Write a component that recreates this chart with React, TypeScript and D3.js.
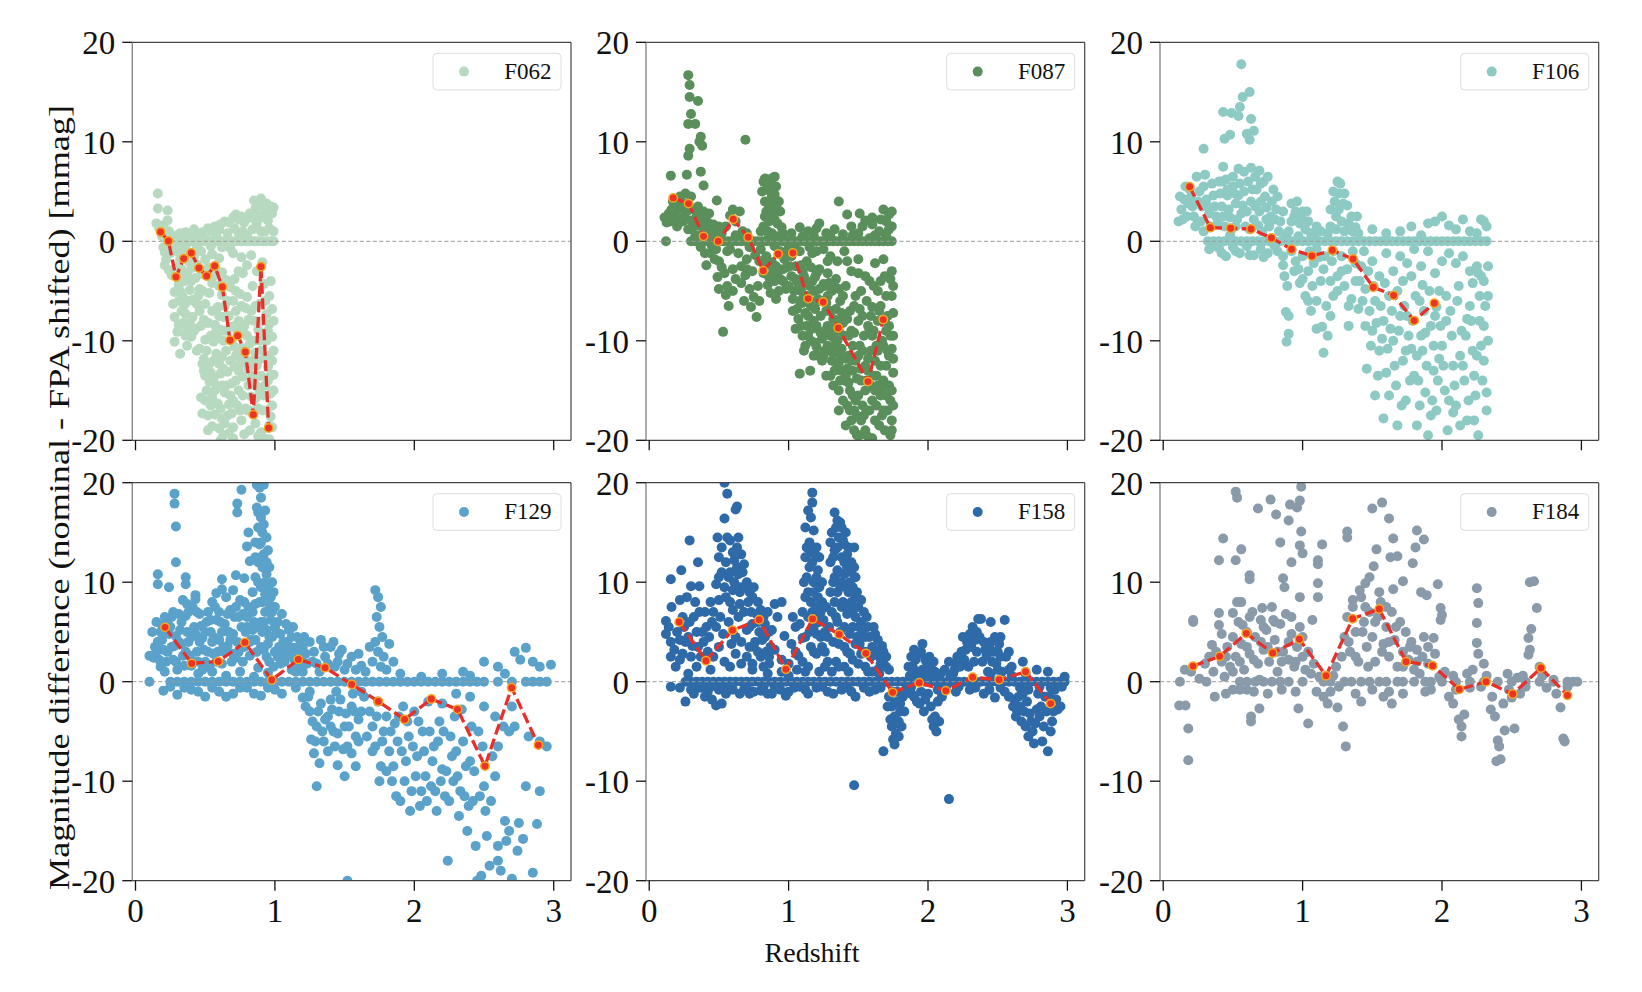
import React from "react";
import * as d3 from "d3";

// ---- data ----
const filters = ["F062", "F087", "F106", "F129", "F158", "F184"];
const colors = ["#b7d9bf", "#5a8f5b", "#8ecac4", "#5aa2ca", "#2f6aa8", "#899baa"];
const xTicks = [0, 1, 2, 3];
const yTicks = [-20, -10, 0, 10, 20];
const yTickLabels = ["-20", "-10", "0", "10", "20"];

// binned means (red dashed line)
const f062Means = "0.18,0.94 0.236,0.03 0.29,-3.58 0.346,-1.74 0.40,-1.17 0.455,-2.68 0.51,-3.48 0.568,-2.48 0.623,-4.59 0.678,-9.95 0.733,-9.48 0.788,-11.12 0.845,-17.42 0.90,-2.55 0.955,-18.76";
const f087Means = "0.172,4.36 0.282,3.79 0.39,0.5 0.495,0 0.603,2.21 0.71,0.4 0.818,-2.95 0.925,-1.27 1.03,-1.17 1.14,-5.76 1.248,-6.1 1.356,-8.71 1.569,-14.1 1.679,-7.87";
const f106Means = "0.19,5.49 0.338,1.37 0.484,1.31 0.63,1.24 0.776,0.34 0.921,-0.8 1.067,-1.47 1.213,-0.9 1.362,-1.78 1.507,-4.62 1.653,-5.43 1.8,-7.97 1.945,-6.23";
const f129Means = "0.212,5.46 0.403,1.84 0.594,2.04 0.785,3.95 0.977,0.17 1.168,2.24 1.36,1.41 1.551,-0.27 1.742,-1.98 1.93,-3.79 2.122,-1.74 2.31,-2.78 2.507,-8.48 2.698,-0.6 2.89,-6.37";
const f158Means = "0.215,6.0 0.407,2.11 0.598,5.18 0.789,6.23 0.98,1.24 1.172,6.3 1.363,4.76 1.554,2.85 1.746,-1.07 1.937,-0.1 2.128,-0.9 2.32,0.44 2.51,0.2 2.70,1.0 2.88,-2.2";
const f184Means = "0.214,1.57 0.405,2.55 0.596,4.86 0.785,2.88 0.977,4.26 1.168,0.6 1.359,6.33 1.55,7.3 1.742,2.01 1.933,1.61 2.124,-0.77 2.316,0 2.507,-1.24 2.71,1.37 2.90,-1.37";

// objects sitting exactly on zero
const f062ZeroX = [0.25, 0.28, 0.31, 0.34, 0.37, 0.4, 0.43, 0.46, 0.49, 0.52, 0.55, 0.58, 0.61, 0.64, 0.67, 0.7, 0.73, 0.76, 0.79, 0.82, 0.85, 0.88, 0.91, 0.94, 0.97, 0.99];
const f087ZeroX = [0.12, 0.3, 0.33, 0.36, 0.39, 0.42, 0.45, 0.48, 0.51, 0.54, 0.57, 0.6, 0.63, 0.66, 0.69, 0.72, 0.75, 0.78, 0.81, 0.84, 0.87, 0.9, 0.93, 0.96, 0.99, 1.02, 1.05, 1.08, 1.11, 1.14, 1.17, 1.2, 1.23, 1.26, 1.29, 1.32, 1.35, 1.38, 1.41, 1.44, 1.47, 1.5, 1.53, 1.56, 1.59, 1.62, 1.65, 1.68, 1.71, 1.74];
const f106ZeroX = [0.32, 0.36, 0.4, 0.44, 0.48, 0.52, 0.56, 0.6, 0.64, 0.68, 0.72, 0.76, 0.8, 0.84, 0.88, 0.92, 0.96, 1.0, 1.04, 1.08, 1.12, 1.16, 1.2, 1.24, 1.28, 1.32, 1.36, 1.4, 1.44, 1.48, 1.52, 1.56, 1.6, 1.64, 1.68, 1.72, 1.76, 1.8, 1.84, 1.88, 1.92, 1.96, 2.0, 2.04, 2.08, 2.12, 2.16, 2.2, 2.24, 2.28, 2.32];
const f129ZeroX = [0.1, 0.25, 0.3, 0.35, 0.4, 0.45, 0.5, 0.55, 0.6, 0.65, 0.7, 0.75, 0.8, 0.85, 0.9, 0.95, 1.0, 1.05, 1.1, 1.15, 1.2, 1.25, 1.3, 1.35, 1.4, 1.45, 1.5, 1.55, 1.6, 1.65, 1.7, 1.75, 1.8, 1.85, 1.9, 1.95, 2.0, 2.05, 2.1, 2.15, 2.2, 2.25, 2.3, 2.35, 2.4, 2.45, 2.5, 2.6, 2.7, 2.8, 2.85, 2.9, 2.95];
const f158ZeroX = [0.26, 0.3, 0.34, 0.38, 0.42, 0.46, 0.5, 0.54, 0.58, 0.62, 0.66, 0.7, 0.74, 0.78, 0.82, 0.86, 0.9, 0.94, 0.98, 1.02, 1.06, 1.1, 1.14, 1.18, 1.22, 1.26, 1.3, 1.34, 1.38, 1.42, 1.46, 1.5, 1.54, 1.58, 1.62, 1.66, 1.7, 1.74, 1.78, 1.82, 1.86, 1.9, 1.94, 1.98, 2.02, 2.06, 2.1, 2.14, 2.18, 2.22, 2.26, 2.3, 2.34, 2.38, 2.42, 2.46, 2.5, 2.54, 2.58, 2.62, 2.66, 2.7, 2.74, 2.78, 2.82, 2.86, 2.9, 2.94, 2.98];
const f184ZeroX = [0.55, 0.6, 0.66, 0.72, 0.78, 0.84, 0.9, 1.0, 1.2, 1.3, 1.35, 1.42, 1.48, 1.55, 1.6, 1.68, 1.72, 1.8, 1.88, 1.92, 2.0, 2.1, 2.2, 2.3, 2.4, 2.5, 2.6, 2.7, 2.8, 2.9];

// scattered objects
const f062Points = `0.16,4.8 0.16,3.3 0.23,3.1 0.23,2.1 0.15,1.8 0.17,1.3 0.2,1.6 0.19,0.5 0.22,0.3 0.27,0.4 0.3,0.6 0.33,0.2 0.36,0.9 0.38,0.8 0.41,0.5 0.45,0.7 0.48,0.9 0.52,1.3 0.55,1.0 0.57,1.5 0.6,1.2 0.61,1.7 0.64,2.0 0.67,1.9 0.7,2.4 0.72,2.7 0.74,2.2 0.76,2.5 0.78,1.9 0.8,2.3 0.82,2.8 0.83,2.4 0.85,4.1 0.86,3.3 0.88,2.6 0.9,4.3 0.91,3.6 0.92,2.4 0.93,3.2 0.94,3.8 0.95,2.1 0.96,2.9 0.97,3.5 0.98,2.8 0.99,3.4 0.87,1.8 0.9,1.0
0.2,-0.6 0.21,-1.1 0.22,-1.8 0.21,-2.4 0.24,-2.9 0.26,-3.4 0.25,-1.2 0.28,-0.5 0.3,-1.0 0.32,-1.8 0.34,-0.6 0.36,-1.4 0.29,-2.5 0.33,-2.8 0.35,-3.3 0.38,-2.0 0.4,-2.7 0.42,-1.5 0.44,-2.3 0.43,-3.7 0.28,-5.1 0.27,-6.3 0.28,-7.6 0.3,-9.1 0.28,-10.1 0.32,-11.3 0.37,-10.5 0.37,-8.9 0.36,-7.3 0.41,-7.6 0.43,-8.8 0.44,-6.3 0.46,-4.8 0.31,-4.4 0.34,-5.6 0.39,-4.9 0.41,-5.9 0.33,-7.0 0.35,-6.4 0.39,-8.2 0.4,-9.6 0.31,-8.4 0.35,-4.0 0.38,-3.6 0.31,-6.0
0.47,-1.0 0.5,-1.8 0.52,-2.6 0.55,-1.3 0.56,-3.5 0.58,-2.9 0.6,-1.7 0.62,-3.1 0.48,-3.3 0.5,-6.3 0.49,-7.9 0.5,-9.9 0.49,-11.8 0.49,-13.0 0.53,-12.3 0.53,-14.1 0.5,-16.0 0.55,-15.6 0.61,-16.8 0.64,-18.3 0.7,-18.7 0.61,-13.3 0.58,-11.3 0.61,-8.9 0.63,-7.6 0.68,-8.6 0.71,-10.6 0.71,-12.6 0.69,-14.3 0.53,-5.2 0.55,-7.0 0.57,-8.4 0.56,-10.1 0.59,-9.7 0.6,-12.3 0.58,-14.5 0.57,-17.4 0.6,-18.8 0.64,-15.2 0.65,-11.0 0.66,-13.1 0.63,-10.0 0.66,-6.0 0.68,-4.6 0.65,-3.9 0.62,-5.4 0.59,-6.6 0.67,-16.4 0.63,-19.5 0.67,-19.3 0.52,-19.0 0.55,-18.6 0.47,-15.7 0.48,-17.3
0.74,-15.0 0.77,-13.6 0.75,-12.3 0.75,-5.3 0.71,-3.8 0.77,-3.2 0.8,-5.6 0.81,-7.9 0.82,-10.3 0.8,-12.3 0.83,-15.6 0.8,-17.0 0.86,-18.3 0.88,-8.9 0.89,-6.3 0.91,-2.1 0.92,-4.3 0.94,-7.3 0.96,-8.3 0.98,-9.6 0.99,-11.0 0.95,-12.6 0.97,-15.3 0.94,-17.0 0.98,-18.7 0.95,-14.0 0.72,-7.0 0.73,-9.0 0.76,-10.7 0.78,-8.5 0.79,-6.7 0.73,-16.5 0.76,-18.0 0.78,-19.4 0.82,-19.0 0.84,-13.5 0.86,-11.2 0.87,-14.6 0.88,-16.8 0.9,-19.2 0.92,-9.7 0.93,-11.8 0.96,-5.5 0.98,-6.8 0.99,-13.4 0.97,-17.6 0.85,-8.0 0.84,-4.5 0.87,-3.0 0.72,-5.0 0.74,-3.0 0.7,-1.2 0.76,-1.6 0.8,-2.4 0.83,-1.4 0.92,-19.8 0.96,-19.9
0.45,-5.5 0.47,-8.5 0.46,-10.8 0.48,-12.3 0.51,-11.0 0.52,-8.2 0.54,-9.5 0.54,-13.2 0.56,-12.0 0.57,-15.0 0.59,-16.3 0.62,-14.5 0.62,-11.6 0.64,-9.0 0.66,-17.5 0.68,-12.0 0.69,-10.0 0.7,-16.0 0.72,-14.0 0.73,-11.5 0.74,-8.0 0.75,-17.0 0.77,-15.5 0.78,-11.8 0.79,-16.8 0.8,-9.5 0.81,-14.5 0.83,-12.0 0.84,-17.3 0.85,-10.0 0.86,-6.5 0.87,-12.5 0.89,-15.0 0.9,-11.0 0.91,-8.0 0.91,-17.0 0.93,-14.5 0.94,-10.0 0.96,-11.5 0.97,-13.5 0.99,-8.0 0.98,-16.5 0.55,-4.2 0.6,-4.5 0.64,-6.5 0.7,-6.0 0.61,-20.0 0.7,-19.8 0.88,-19.6
0.24,1.0 0.26,-0.3 0.32,0.8 0.36,-0.4 0.42,1.2 0.44,-0.5 0.5,0.3 0.54,-0.5 0.58,0.6 0.62,-0.6 0.66,0.8 0.68,-0.7 0.71,1.3 0.74,0.8 0.77,1.0 0.8,0.6 0.84,1.2 0.93,1.0 0.96,1.3 0.99,1.0
0.3,-3.5 0.32,-5.0 0.34,-8.2 0.36,-9.5 0.38,-6.0 0.4,-4.0 0.42,-9.0 0.44,-11.0 0.46,-7.0 0.48,-5.0 0.5,-13.5 0.51,-15.0 0.52,-17.5 0.54,-16.5 0.56,-13.8 0.58,-9.0 0.6,-7.5 0.62,-17.8 0.63,-12.8 0.65,-14.5 0.67,-7.5 0.68,-15.5 0.69,-17.3 0.71,-8.5 0.72,-11.5 0.74,-13.0 0.76,-6.5 0.77,-9.0 0.79,-11.0 0.81,-12.8 0.82,-17.0 0.83,-7.0 0.85,-14.0 0.86,-15.8 0.88,-12.0 0.89,-10.0 0.9,-13.5 0.92,-15.5 0.93,-6.0 0.95,-9.0 0.96,-18.5 0.98,-12.0 0.99,-15.0 0.97,-4.0`;

const f087Points = `0.28,16.7 0.29,15.7 0.29,14.5 0.35,14.1 0.28,11.8 0.33,11.8 0.37,10.5 0.29,9.3 0.28,8.6 0.38,9.6 0.37,7.0 0.27,6.7 0.155,6.6 0.39,5.6 0.485,4.1 0.69,10.2 0.3,12.8 0.36,10.0
0.11,2.4 0.125,1.9 0.14,2.8 0.16,3.2 0.18,2.5 0.2,3.8 0.22,4.5 0.24,3.3 0.26,4.8 0.27,3.0 0.3,2.1 0.32,3.2 0.34,2.5 0.36,1.6 0.38,2.6 0.4,1.2 0.42,1.9 0.44,0.9 0.46,1.7 0.48,0.6 0.2,1.5 0.24,2.0 0.28,1.2 0.33,0.5 0.37,-0.6 0.41,-2.4 0.44,-1.2 0.47,-1.8 0.49,-3.6 0.5,-4.8 0.53,-9.1 0.55,-5.4 0.52,-2.6 0.56,-1.0
0.55,1.5 0.58,2.6 0.6,3.2 0.62,2.0 0.65,3.0 0.67,1.0 0.64,-1.2 0.66,-2.5 0.69,-3.4 0.7,-1.8 0.72,-4.8 0.74,-3.0 0.75,-5.6 0.77,-7.6 0.73,-6.6 0.6,-2.8 0.58,-0.8 0.7,0.8 0.76,-1.4 0.79,-2.0
0.82,6.0 0.85,6.2 0.88,6.3 0.9,6.5 0.84,5.2 0.87,5.0 0.9,4.7 0.83,4.0 0.86,3.5 0.89,3.8 0.92,3.2 0.83,2.5 0.86,2.0 0.89,2.8 0.92,1.8 0.95,1.4 0.85,1.0 0.88,0.8 0.92,0.5 0.96,0.8 0.8,-0.8 0.84,-1.5 0.88,-2.1 0.91,-2.5 0.82,-3.2 0.86,-3.6 0.9,-4.0 0.87,-5.2 0.91,-5.8 0.94,-3.8 0.97,-1.8 0.99,-2.6 1.0,-0.7 0.98,-4.8
1.08,1.4 1.14,1.0 1.2,1.3 1.27,0.8 1.36,4.0 1.42,2.7 1.45,1.5 1.51,2.8 1.55,2.1 1.6,1.7 1.65,1.0 1.68,3.2 1.72,2.7 1.7,2.0 1.74,1.5 1.62,0.6 1.5,0.8 1.33,1.2 1.39,0.7 1.58,0.3
1.02,-1.5 1.02,-3.5 1.04,-5.0 1.05,-2.5 1.06,-6.8 1.07,-4.2 1.08,-1.0 1.09,-8.5 1.1,-3.0 1.11,-5.5 1.12,-7.2 1.13,-2.0 1.14,-9.5 1.15,-4.5 1.16,-6.5 1.17,-1.2 1.18,-8.0 1.19,-3.6 1.2,-10.6 1.21,-5.8 1.22,-2.8 1.23,-7.5 1.24,-12.0 1.25,-4.3 1.26,-9.0 1.27,-6.2 1.28,-3.2 1.29,-11.0 1.3,-13.5 1.31,-5.0 1.32,-7.8 1.33,-9.8 1.34,-3.8 1.35,-12.5 1.36,-15.0 1.37,-6.0 1.38,-10.8 1.39,-8.2 1.4,-14.0 1.41,-4.5 1.42,-16.5 1.43,-11.5 1.44,-7.0 1.45,-18.0 1.46,-13.0 1.47,-9.2 1.48,-5.5 1.49,-19.5 1.5,-15.5 1.51,-10.5 1.52,-12.8 1.53,-7.5 1.54,-17.5 1.55,-19.0 1.56,-6.0 1.57,-11.8 1.58,-9.0 1.59,-14.5 1.6,-19.8 1.61,-4.5 1.62,-12.0 1.63,-16.5 1.64,-8.0 1.65,-18.5 1.66,-6.5 1.67,-10.0 1.68,-14.0 1.69,-3.5 1.7,-12.5 1.71,-17.0 1.72,-8.5 1.73,-19.5 1.74,-5.5 1.74,-10.8 1.74,-15.0 1.75,-13.2 1.75,-7.2 1.08,-13.3 1.155,-13.0 1.11,-11.0 1.04,-0.5 1.3,-1.5 1.35,-2.0 1.45,-3.0 1.55,-3.5 1.62,-2.2 1.68,-1.8 1.05,-8.8 1.2,-1.0 1.25,-0.8 1.4,-1.0 1.5,-1.8 1.15,-0.6
1.12,-4.0 1.18,-5.0 1.22,-6.0 1.28,-8.5 1.32,-11.2 1.36,-9.0 1.38,-13.0 1.42,-12.8 1.46,-10.5 1.48,-16.0 1.52,-18.0 1.56,-14.0 1.6,-9.5 1.64,-11.0 1.66,-15.5 1.7,-9.0 1.72,-14.5 1.58,-17.0 1.44,-15.0 1.34,-6.8 1.26,-4.5 1.16,-2.6 1.1,-6.2 1.52,-5.0 1.6,-6.6 1.66,-4.0 1.73,-3.8
1.0,-4.5 1.03,-7.0 1.06,-4.0 1.08,-6.0 1.09,-2.4 1.1,-9.5 1.12,-10.5 1.13,-5.5 1.14,-7.5 1.16,-10.0 1.17,-4.0 1.19,-6.8 1.2,-8.5 1.21,-11.5 1.22,-4.8 1.24,-9.8 1.25,-6.0 1.26,-11.0 1.27,-13.5 1.28,-5.5 1.3,-7.0 1.3,-9.5 1.31,-12.0 1.32,-14.5 1.33,-4.5 1.34,-10.5 1.35,-8.0 1.36,-12.2 1.37,-14.0 1.38,-7.2 1.39,-16.0 1.4,-9.5 1.41,-11.8 1.42,-7.8 1.43,-14.2 1.44,-17.0 1.45,-9.0 1.46,-15.5 1.47,-6.5 1.48,-12.0 1.49,-17.5 1.5,-8.0 1.5,-11.5 1.51,-19.5 1.52,-14.0 1.53,-16.5 1.54,-9.5 1.55,-12.5 1.56,-17.0 1.57,-8.5 1.58,-19.8 1.59,-11.0 1.6,-16.0 1.61,-13.5 1.62,-18.0 1.63,-10.5 1.64,-14.5 1.65,-7.0 1.66,-12.5 1.67,-17.5 1.68,-10.5 1.69,-19.0 1.7,-15.5 1.71,-7.5 1.72,-11.5 1.73,-16.0 1.74,-18.0 1.75,-9.5 1.75,-4.5 1.74,-3.0 1.7,-5.5 1.64,-5.0 1.58,-4.0 1.5,-3.2 1.42,-2.0 1.36,-4.8 1.28,-2.0 1.2,-3.2
0.15,2.0 0.17,4.0 0.19,3.0 0.21,2.2 0.23,4.0 0.25,2.5 0.28,3.8 0.3,4.5 0.31,1.2 0.33,2.0 0.35,3.5 0.37,1.8 0.39,3.0 0.41,0.5 0.43,2.8 0.45,-0.5 0.47,1.0 0.4,-1.2 0.36,0.6 0.48,-0.8 0.5,-2.0 0.52,0.8 0.54,-3.2 0.56,-4.5 0.57,-6.5 0.6,-5.0 0.62,-3.8 0.64,0.5 0.66,-4.2 0.68,-6.0 0.7,-2.8 0.72,-0.6 0.78,-4.5 0.79,-6.0 0.8,1.0 0.62,0.6 0.5,1.5
0.81,5.0 0.83,6.3 0.86,5.6 0.88,4.5 0.91,5.5 0.93,4.0 0.84,3.0 0.87,2.6 0.9,2.2 0.94,3.0 0.82,1.5 0.86,0.5 0.9,-0.5 0.94,-1.0 0.96,-2.8 0.92,-3.2 0.84,-2.4 0.8,-2.0 0.85,-4.4 0.89,-3.0 0.93,-5.0 0.96,-4.0 0.99,-1.2
1.02,0.8 1.1,0.5 1.18,0.6 1.22,1.8 1.3,0.5 1.46,0.6 1.53,1.5 1.6,2.4 1.66,2.2 1.72,1.2 1.74,3.0 1.7,0.6
1.01,-2.5 1.03,-5.8 1.05,-3.8 1.07,-7.8 1.09,-5.0 1.11,-3.5 1.13,-8.5 1.15,-6.0 1.17,-8.8 1.19,-10.2 1.21,-3.0 1.23,-9.2 1.25,-11.5 1.27,-7.0 1.29,-4.2 1.31,-8.8 1.33,-13.0 1.35,-10.0 1.37,-11.5 1.39,-5.5 1.41,-13.5 1.43,-9.5 1.45,-12.0 1.47,-17.0 1.49,-13.8 1.51,-6.8 1.53,-11.0 1.55,-15.0 1.57,-13.0 1.59,-7.5 1.61,-9.0 1.63,-13.5 1.65,-10.5 1.67,-14.8 1.69,-8.0 1.71,-11.0 1.73,-9.5 1.75,-16.5 1.75,-11.8 1.47,-19.0 1.56,-19.5 1.62,-15.0 1.68,-17.0 1.74,-19.0 1.41,-18.5 1.36,-17.0 1.28,-10.5 1.18,-11.5`;

const f106Points = `0.56,17.8 0.62,15.0 0.57,14.5 0.55,13.5 0.43,13.0 0.49,12.9 0.54,12.6 0.63,12.3 0.65,11.1 0.62,10.2 0.6,10.8 0.48,10.7 0.44,10.3 0.29,9.3 0.43,7.5 0.54,7.3 0.63,7.4 0.69,7.1 0.5,5.5 0.46,4.6
0.12,4.5 0.11,2.0 0.14,2.2 0.16,5.5 0.18,3.8 0.2,4.5 0.22,2.5 0.24,6.5 0.26,5.0 0.28,3.5 0.29,1.0 0.31,4.2 0.33,2.8 0.35,5.8 0.37,3.5 0.39,1.8 0.41,4.8 0.43,2.5 0.45,6.2 0.47,3.2 0.49,1.2 0.51,4.8 0.53,2.2 0.55,5.8 0.57,3.6 0.59,1.5 0.61,6.0 0.63,4.0 0.65,2.2 0.67,5.2 0.69,3.0 0.71,1.0 0.73,4.5 0.75,6.5 0.77,2.5 0.79,5.2 0.81,3.2 0.83,1.0 0.35,-0.5 0.4,-0.7 0.45,-1.5 0.5,-0.6 0.55,-1.2 0.6,-0.5 0.65,-1.4 0.7,-0.8 0.75,-1.2 0.8,-0.5 0.25,2.0 0.3,6.7 0.42,6.0 0.52,3.8 0.58,7.0 0.66,6.5 0.7,5.8 0.74,2.2 0.38,-0.2 0.48,0.6
0.885,-10.1 0.9,-9.3 0.9,-7.5 0.88,-7.1 0.89,-4.5 0.87,-3.5 0.86,-2.4 0.92,-1.0 0.95,-2.0 0.98,-4.2 1.0,-3.8 1.02,-5.5 1.04,-6.0 1.06,-7.0 1.1,-8.8 1.15,-11.2 1.14,-8.6 1.18,-9.5 1.2,-4.0 1.22,-5.5 1.25,-3.5 1.3,-4.5 1.32,-2.8 1.35,-5.8 1.38,-4.0 0.92,3.8 0.94,2.5 0.96,4.0 0.98,1.8 1.0,3.0 1.02,1.2 1.04,2.0 1.06,0.8 1.1,1.5 1.12,-1.6 1.15,-2.8 1.08,-2.2 1.18,0.8 1.22,5.0 1.25,6.0 1.27,5.8 1.3,4.8 1.23,4.0 1.26,3.2 1.28,2.0 1.32,3.6 1.35,2.5 1.38,1.4 1.24,1.2 1.3,1.0 1.36,-1.0 1.28,-1.5 1.21,-2.0 0.9,1.0 0.97,0.5 0.86,3.0
1.42,-2.5 1.45,-4.8 1.48,-7.0 1.5,-9.0 1.52,-6.0 1.55,-11.0 1.58,-8.0 1.6,-13.2 1.62,-5.5 1.65,-10.0 1.67,-14.5 1.7,-7.5 1.72,-12.0 1.74,-16.0 1.76,-9.5 1.78,-3.5 1.8,-13.5 1.82,-18.5 1.84,-6.0 1.86,-11.0 1.88,-15.2 1.9,-19.5 1.92,-8.5 1.94,-13.0 1.96,-17.0 1.98,-5.0 2.0,-10.5 2.02,-15.0 2.04,-19.0 2.06,-7.0 2.08,-12.5 2.1,-16.5 2.12,-4.5 2.14,-9.0 2.16,-14.0 2.18,-18.0 2.2,-6.5 2.22,-11.0 2.24,-15.5 2.26,-19.5 2.28,-3.5 2.3,-8.5 2.32,-15.2 2.33,-5.5 2.3,-12.0 2.25,-2.5 2.2,-3.0 2.15,-1.5 2.1,-2.2 1.44,-1.0 1.5,-2.0 1.55,-3.5 1.6,-1.2 1.65,-3.0 1.7,-1.5 1.75,-2.2 1.8,-0.8 1.85,-2.5 1.9,-1.0 1.95,-3.2 2.0,-2.0 2.05,-1.2 1.46,-12.8 1.52,-15.5 1.58,-17.8 1.63,-8.8 1.68,-18.5 1.73,-6.5 1.78,-10.8 1.83,-14.0 1.88,-9.2 1.93,-16.0 1.98,-11.8 2.03,-8.0 2.08,-17.2 2.13,-11.5 2.18,-7.8 2.23,-13.5 2.28,-10.5 2.32,-17.0 2.27,-5.5 2.22,-4.2 1.86,-4.4 1.96,-6.6
1.6,0.8 1.7,1.0 1.78,1.5 1.85,0.6 1.9,1.8 1.95,2.0 2.0,2.5 2.05,1.6 2.1,1.2 2.15,2.2 2.2,1.0 2.25,0.8 2.3,2.0 2.32,1.5 2.28,2.2 1.4,0.8 1.5,1.2
0.13,3.2 0.15,4.2 0.17,2.5 0.19,5.2 0.21,3.5 0.23,1.5 0.25,4.0 0.27,2.0 0.29,5.5 0.32,3.5 0.34,1.5 0.36,4.6 0.38,2.5 0.4,6.0 0.42,3.5 0.44,1.5 0.46,5.2 0.48,2.4 0.5,6.5 0.52,1.5 0.54,4.6 0.56,2.8 0.58,5.0 0.6,3.0 0.62,1.2 0.64,5.2 0.66,3.5 0.68,1.6 0.7,4.0 0.72,6.0 0.74,3.4 0.76,1.5 0.78,4.0 0.8,2.2 0.82,4.5 0.84,2.0 0.33,-0.8 0.42,-1.2 0.52,-1.0 0.62,-1.4 0.72,-1.6 0.82,-1.0 0.86,-1.5
0.88,0.5 0.92,2.0 0.95,3.0 0.99,2.5 1.03,3.0 1.05,-1.0 1.08,0.5 1.1,-0.8 1.13,1.0 1.16,-1.5 1.2,1.5 1.22,-1.0 1.26,4.8 1.29,3.8 1.33,1.8 1.36,1.0 1.39,2.5 1.24,2.5 1.2,3.2 0.94,-3.0 0.97,-2.8 1.0,-1.5 1.04,-3.0 1.07,-4.5 1.1,-6.0 1.13,-4.0 1.17,-6.5 1.2,-7.5 1.25,-5.0 1.28,-3.0 1.33,-6.5 1.38,-2.2 1.4,-6.8 1.33,-8.5
1.41,-4.0 1.43,-6.0 1.45,-8.5 1.47,-3.0 1.49,-10.5 1.51,-4.5 1.53,-8.2 1.54,-13.5 1.56,-6.5 1.57,-9.8 1.59,-4.2 1.61,-10.8 1.62,-15.5 1.64,-7.0 1.66,-12.5 1.68,-5.0 1.69,-9.0 1.71,-16.5 1.72,-4.0 1.74,-11.0 1.75,-7.5 1.77,-14.0 1.79,-8.0 1.81,-5.5 1.82,-11.5 1.84,-16.5 1.85,-9.5 1.87,-7.0 1.89,-12.5 1.91,-5.0 1.92,-17.5 1.94,-10.5 1.95,-7.5 1.97,-14.0 1.99,-8.5 2.01,-12.5 2.03,-5.5 2.05,-16.0 2.07,-9.5 2.09,-14.5 2.11,-6.0 2.13,-18.5 2.15,-12.5 2.17,-9.5 2.19,-16.0 2.21,-8.0 2.23,-18.0 2.25,-11.5 2.27,-8.0 2.29,-14.0 2.31,-6.5 2.33,-10.0 2.33,-2.5 2.3,-4.0 2.26,-3.2`;

const f129Points = `0.28,18.9 0.28,17.9 0.29,15.6 0.29,12.0 0.16,10.8 0.16,9.8 0.24,9.5 0.36,10.5 0.36,9.8 0.43,8.7 0.43,8.3 0.37,7.8 0.55,8.0 0.62,10.3 0.62,9.3 0.73,17.9 0.73,17.0 0.76,19.3 0.72,10.7 0.78,10.4 0.81,15.0 0.8,13.6 0.82,12.1
0.87,19.8 0.89,19.5 0.92,19.8 0.9,18.5 0.87,17.5 0.9,16.5 0.93,17.2 0.88,15.5 0.91,15.0 0.94,14.5 0.89,13.8 0.92,12.8 0.95,13.2 0.88,12.0 0.91,11.5 0.94,10.8 0.96,11.5 0.98,10.0 0.97,8.5 1.0,7.5 0.86,10.5 0.9,9.5 0.93,8.8
0.1,2.6 0.13,2.4 0.15,6.0 0.16,4.0 0.18,1.5 0.19,5.7 0.2,3.2 0.22,2.0 0.24,4.8 0.26,6.5 0.28,3.6 0.3,1.2 0.32,5.2 0.34,2.6 0.36,6.6 0.38,4.0 0.4,1.6 0.42,5.5 0.44,3.0 0.46,6.8 0.48,4.4 0.5,2.0 0.52,7.0 0.54,5.0 0.56,2.8 0.58,6.2 0.6,4.2 0.62,1.8 0.64,5.8 0.66,3.6 0.68,7.2 0.7,4.8 0.72,2.4 0.74,6.5 0.76,3.8 0.78,8.0 0.8,5.5 0.82,2.6 0.84,7.0 0.86,4.2 0.88,1.4 0.9,6.0 0.92,3.2 0.94,5.2 0.96,2.0 0.98,4.5 1.0,3.0 1.02,6.0 1.04,1.8 1.06,4.0 1.08,2.5 1.1,5.2 1.12,1.2 1.14,3.4 1.16,2.0 1.18,4.2 1.2,1.0 1.22,2.8 0.2,-0.9 0.3,-1.3 0.4,-0.8 0.5,-1.5 0.6,-1.0 0.7,-1.2 0.8,-0.6 0.9,-1.4 1.0,-0.8 0.45,0.8 0.55,1.0 0.65,0.6 0.75,1.0 0.85,0.5 0.95,0.9 0.34,8.2 0.27,7.0 0.58,8.9 0.7,9.2 0.77,6.8 0.84,9.0
1.25,4.0 1.28,3.0 1.3,1.8 1.33,4.2 1.36,2.5 1.4,3.5 1.43,1.5 1.46,2.8 1.5,1.2 1.24,-1.5 1.25,-3.0 1.26,-5.8 1.28,-7.2 1.3,-10.5 1.3,-4.5 1.33,-2.2 1.35,-6.0 1.38,-3.5 1.4,-1.8 1.42,-5.0 1.45,-8.4 1.46,-3.0 1.5,-4.5 1.5,-9.5 1.52,-6.5 1.55,-2.5 1.58,-5.5 1.58,-8.5 1.6,-3.8 1.56,-1.2 1.62,-1.0 1.65,1.0 1.52,-20.0 1.44,-1.0
1.72,9.2 1.74,8.5 1.76,7.5 1.73,6.5 1.75,5.5 1.77,4.5 1.72,4.0 1.74,3.0 1.78,2.5 1.76,1.5 1.7,2.0 1.8,1.2 1.68,3.5 1.82,3.8 1.85,2.0 1.9,0.8
1.64,-1.5 1.68,-3.0 1.7,-4.5 1.72,-6.5 1.74,-2.0 1.76,-8.5 1.78,-5.0 1.8,-3.5 1.82,-7.0 1.84,-10.0 1.86,-4.2 1.88,-6.0 1.9,-12.0 1.92,-2.5 1.94,-8.0 1.96,-5.5 1.98,-11.0 2.0,-3.0 2.02,-7.5 2.04,-12.5 2.06,-5.0 2.08,-9.5 2.1,-2.0 2.12,-10.5 2.14,-6.5 2.16,-13.0 2.18,-4.0 2.2,-8.8 2.22,-11.5 2.24,-18.0 2.26,-5.5 2.28,-10.0 2.3,-7.0 2.32,-13.5 2.34,-2.8 2.36,-11.5 2.38,-15.0 2.4,-8.0 2.42,-12.0 2.44,-16.5 2.46,-5.0 2.48,-19.5 2.5,-10.5 2.52,-15.5 2.54,-18.5 2.56,-7.5 2.6,-16.5 2.62,-19.0 2.65,-14.0 2.68,-15.0 2.7,-19.8 2.72,-4.5 2.75,-14.2 2.78,-15.8 2.8,-10.5 2.85,-19.2 2.88,-14.3 2.9,-6.0 2.95,-6.5 2.58,-3.5 2.5,-2.5 2.4,-1.5 2.3,-1.2 2.2,-2.2 2.45,-20.0
2.72,3.0 2.8,3.4 2.76,2.2 2.9,1.5 2.98,1.7 2.6,1.5 2.5,2.0 2.35,1.0 2.2,0.8 2.05,0.5 2.65,0.8 2.4,0.6 2.85,2.0
0.12,5.0 0.14,3.5 0.17,2.2 0.19,4.2 0.21,6.5 0.23,3.0 0.25,5.5 0.27,2.2 0.29,4.6 0.31,6.8 0.33,3.8 0.35,1.6 0.37,5.0 0.39,2.6 0.41,7.5 0.43,4.8 0.45,2.0 0.47,5.6 0.49,3.2 0.51,6.0 0.53,1.5 0.55,4.0 0.57,7.5 0.59,3.0 0.61,6.0 0.63,3.5 0.65,8.5 0.67,5.0 0.69,2.0 0.71,6.5 0.73,4.0 0.75,8.2 0.77,2.0 0.79,5.0 0.81,7.5 0.83,4.2 0.85,6.0 0.87,3.0 0.89,8.0 0.91,5.0 0.93,7.0 0.95,3.8 0.97,6.2 0.99,1.5 1.01,5.0 1.03,3.5 1.05,6.8 1.07,2.0 1.09,4.0 1.11,2.8 1.13,5.5 1.15,1.0 1.17,3.0 1.19,2.2 1.21,4.5 1.23,1.8 0.25,-0.5 0.35,-0.6 0.45,-1.0 0.55,-0.6 0.65,-1.5 0.75,-0.6 0.85,-1.2 0.95,-0.6 1.05,-1.2 1.15,-0.6 1.2,-1.6
0.86,14.0 0.88,17.0 0.9,12.5 0.92,15.8 0.94,12.0 0.86,12.5 0.9,14.0 0.95,9.5 0.88,10.0 0.93,10.0 0.96,7.8 0.99,9.0 0.91,8.0
1.22,-2.5 1.25,-1.0 1.27,-4.0 1.29,-6.0 1.31,-3.0 1.32,-8.2 1.34,-5.0 1.36,-3.8 1.38,-7.0 1.4,-4.5 1.41,-2.8 1.43,-6.5 1.45,-5.2 1.47,-1.8 1.49,-6.8 1.51,-3.2 1.53,-4.5 1.55,-7.2 1.57,-3.0 1.6,-6.0 1.27,2.0 1.32,1.0 1.35,3.5 1.38,1.8 1.42,4.0 1.45,2.0 1.48,3.2 1.52,1.8 1.55,2.5 1.58,1.2 1.6,2.8 1.62,1.6
1.62,-3.0 1.66,-5.5 1.7,-7.0 1.73,-3.5 1.75,-10.0 1.77,-6.0 1.8,-9.0 1.83,-5.0 1.85,-8.5 1.87,-11.5 1.89,-3.5 1.91,-7.0 1.93,-10.0 1.95,-4.0 1.97,-13.0 1.99,-6.5 2.01,-9.5 2.03,-4.0 2.05,-11.0 2.07,-7.0 2.09,-12.0 2.11,-5.0 2.13,-8.0 2.15,-11.0 2.17,-6.0 2.19,-10.0 2.21,-5.0 2.23,-9.0 2.25,-12.0 2.27,-7.5 2.29,-3.5 2.31,-9.5 2.33,-11.0 2.35,-6.0 2.37,-8.5 2.39,-12.5 2.41,-4.5 2.43,-9.0 2.47,-11.5 2.49,-6.5 2.51,-13.0
2.55,-12.0 2.58,-9.5 2.6,-6.5 2.64,-4.5 2.68,-5.0 2.7,-2.5 2.66,-16.0 2.74,-17.0 2.6,-18.0 2.82,-5.5 2.9,-11.0
0.15,3.0 0.18,5.0 0.21,1.0 0.23,5.8 0.26,3.5 0.29,2.0 0.31,4.0 0.33,6.0 0.36,3.0 0.38,7.0 0.4,4.5 0.42,2.0 0.44,7.0 0.46,4.0 0.48,1.2 0.5,5.0 0.52,3.0 0.54,6.2 0.56,4.5 0.58,2.0 0.6,7.0 0.62,5.0 0.64,3.0 0.66,6.8 0.68,4.2 0.7,2.8 0.72,7.5 0.74,3.0 0.76,5.5 0.78,3.5 0.8,6.5 0.82,4.0 0.84,5.2 0.86,7.8 0.88,5.5 0.9,3.5 0.92,6.0 0.94,2.5 0.96,4.5 0.98,7.0 1.0,5.5 1.02,2.5 1.04,4.8 1.06,3.0 1.08,5.8 1.1,3.5 1.12,4.5 1.14,2.2 1.16,4.5 1.18,1.5 1.2,3.5`;

const f158Points = `0.54,20.0 0.56,18.9 0.63,17.6 0.62,17.3 0.54,16.4 0.49,14.5 0.58,14.2 0.64,14.5 0.63,13.5 0.6,13.0 0.66,12.8 0.5,12.5 0.55,12.0 0.61,12.2 0.68,11.8 0.52,11.0 0.57,10.5 0.64,10.8 0.7,10.0 0.48,9.8 0.54,9.5 0.6,9.2 0.66,9.5 0.72,9.0 0.74,8.5 0.5,8.2 0.58,8.0 0.65,7.8 0.78,8.0 0.8,7.2 0.82,6.5 0.85,7.0
0.29,14.2 0.35,12.0 0.23,11.2 0.155,10.3 0.3,9.6 0.36,9.6 0.22,8.2 0.12,6.1 0.12,4.8 0.155,4.0 0.155,2.5 0.19,1.5 0.155,-0.5 0.25,5.5 0.28,4.5 0.32,6.5 0.35,3.5 0.38,5.0 0.42,3.0 0.45,6.0 0.4,7.0 0.3,2.5 0.34,1.5 0.24,2.8 0.44,1.2 0.28,0.8 0.45,-1.8 0.48,-2.4 0.52,-2.2 0.38,-0.6 0.42,-1.0 0.3,-0.8 0.22,-0.6 0.26,-2.0 0.5,-0.8
0.72,5.5 0.75,3.5 0.78,6.0 0.8,2.5 0.83,4.5 0.86,1.8 0.88,5.2 0.9,3.2 0.92,6.5 0.95,2.2 0.97,4.6 1.0,1.8 1.02,3.8 1.05,5.5 1.07,2.6 1.1,4.4 0.74,1.2 0.85,0.8 0.95,1.0 1.0,0.6 0.7,-0.6 0.8,-0.9 0.9,-0.6 1.0,-1.0 1.08,-0.5 0.95,8.0 0.9,7.8
1.17,19.0 1.17,18.0 1.14,17.2 1.12,15.5 1.18,15.2 1.15,14.0 1.2,13.5 1.12,12.5 1.17,12.0 1.21,11.2 1.13,10.5 1.18,10.0 1.22,9.5 1.12,8.5 1.16,8.0 1.2,7.5 1.24,8.0 1.14,6.5 1.18,5.5 1.22,6.0 1.26,5.0 1.16,3.5 1.2,2.8 1.24,3.5 1.14,1.5 1.22,1.0 1.28,2.0 1.12,-0.8 1.2,-0.6 1.28,-1.0
1.33,17.0 1.35,16.2 1.38,15.5 1.31,15.0 1.36,14.5 1.4,13.8 1.33,13.2 1.38,12.5 1.42,12.8 1.47,13.5 1.3,12.0 1.35,11.2 1.4,10.8 1.45,11.0 1.48,10.5 1.32,10.0 1.37,9.5 1.43,9.0 1.48,8.5 1.33,8.0 1.38,7.5 1.42,6.8 1.46,7.2 1.35,6.0 1.4,5.5 1.44,4.8 1.5,5.5 1.36,3.8 1.42,3.0 1.48,3.8 1.34,2.0 1.4,1.5 1.46,2.2 1.52,2.8 1.38,-0.8 1.45,-1.0
1.52,6.0 1.55,4.5 1.57,5.5 1.6,3.5 1.62,4.8 1.65,2.5 1.67,3.6 1.7,1.5 1.55,1.5 1.6,1.0 1.65,0.8 1.54,-0.6 1.62,-0.8 1.68,1.8 1.47,-10.4
1.72,-1.5 1.74,-2.5 1.76,-3.5 1.74,-4.5 1.77,-5.2 1.76,-6.3 1.68,-7.0 1.78,-2.0 1.8,-3.0 1.82,-1.5 1.75,-1.0 1.79,-4.0
1.86,1.5 1.88,2.5 1.9,3.2 1.92,1.0 1.94,2.8 1.96,1.2 1.98,2.2 2.0,0.8 2.02,1.6 2.04,2.0 1.88,-1.2 1.92,-2.0 1.95,-1.0 1.98,-1.8 2.02,-2.5 2.05,-3.5 2.06,-5.0 2.08,-4.0 2.1,-1.5 1.96,3.8 1.88,-0.5 2.15,-11.8
2.12,1.2 2.15,2.0 2.18,0.8 2.2,1.8 2.24,3.0 2.26,2.2 2.28,4.0 2.3,4.8 2.32,5.5 2.34,4.2 2.36,6.3 2.38,6.3 2.35,3.0 2.4,4.0 2.42,2.6 2.44,3.6 2.46,2.0 2.48,4.5 2.5,3.0 2.5,1.2 2.52,2.5 2.45,0.8 2.2,-1.0 2.3,-0.8 2.4,-1.2 2.48,-1.6 2.55,-1.0 2.52,4.5 2.45,6.0 2.55,6.2 2.58,3.0
2.6,1.5 2.62,-1.8 2.64,-3.0 2.66,-2.5 2.68,-1.2 2.7,-4.5 2.72,-5.5 2.74,-4.0 2.76,-6.2 2.78,-2.8 2.8,-3.5 2.82,-6.0 2.84,-1.5 2.86,-7.0 2.88,-5.0 2.9,-3.0 2.92,-1.8 2.95,-2.5 2.98,0.5 2.86,1.0 2.78,1.2 2.7,0.8 2.68,2.0
0.46,7.0 0.48,5.5 0.5,10.5 0.51,6.5 0.52,13.5 0.53,4.8 0.55,8.5 0.56,14.5 0.57,6.0 0.58,11.0 0.59,3.8 0.6,7.2 0.61,10.0 0.62,4.5 0.63,11.5 0.64,6.5 0.65,9.0 0.66,4.0 0.67,11.0 0.68,7.0 0.69,9.5 0.7,5.2 0.71,8.0 0.72,3.5 0.73,7.0 0.74,5.8 0.75,9.5 0.76,4.0 0.77,6.8 0.79,5.0 0.81,4.2 0.83,5.8 0.84,3.0 0.86,5.0 0.87,3.5 0.46,2.5 0.5,3.5 0.54,2.0 0.58,1.5 0.62,2.8 0.66,1.8 0.7,2.5 0.74,1.8 0.78,3.0 0.82,1.5 0.86,2.5 0.55,-1.2 0.6,-0.8 0.65,-1.2 0.75,-1.0 0.85,-1.2
1.1,7.0 1.11,10.0 1.12,4.5 1.13,13.5 1.14,9.0 1.15,11.5 1.15,5.0 1.16,16.5 1.16,13.0 1.17,7.0 1.18,9.0 1.18,3.0 1.19,12.8 1.19,6.5 1.2,10.5 1.2,4.8 1.21,8.5 1.22,12.5 1.23,7.0 1.23,4.5 1.24,10.0 1.25,6.2 1.26,3.0 1.27,7.5 1.28,4.5 1.1,2.0 1.12,1.0 1.26,1.5 1.05,3.0 1.08,5.8 1.03,6.5 1.06,1.2
1.29,5.5 1.3,9.0 1.3,14.0 1.31,7.0 1.32,12.5 1.32,4.0 1.33,10.5 1.34,15.5 1.34,6.5 1.35,9.0 1.35,13.5 1.36,11.0 1.37,16.0 1.37,5.0 1.38,10.0 1.39,14.2 1.39,8.0 1.4,12.0 1.4,3.5 1.41,9.5 1.41,15.0 1.42,11.5 1.43,7.5 1.43,13.5 1.44,10.0 1.44,2.8 1.45,8.0 1.45,12.0 1.46,5.5 1.46,9.5 1.47,11.5 1.48,6.5 1.49,9.0 1.49,4.5 1.5,7.5 1.51,3.8 1.52,8.2 1.53,5.0 1.54,7.0 1.55,3.0 1.56,6.5 1.58,4.5 1.59,2.5 1.61,5.5 1.63,3.0 1.64,4.2 1.66,1.8 1.68,3.0 1.7,2.5 1.72,1.2 1.31,1.0 1.36,1.5 1.43,1.0 1.5,1.8 1.57,1.0 1.64,1.2
0.14,5.5 0.16,7.5 0.18,3.2 0.2,5.0 0.22,2.2 0.24,6.5 0.26,4.0 0.27,8.5 0.29,6.0 0.31,3.6 0.33,8.0 0.34,5.0 0.36,7.0 0.37,2.5 0.39,4.0 0.41,5.5 0.43,4.5 0.44,8.0 0.22,4.2
0.32,-1.2 0.36,-0.6 0.4,-1.5 0.44,-0.5 0.56,-0.5 0.68,-0.8 0.72,-1.2 0.82,-0.5 0.88,-1.2 0.94,-0.8 0.98,-1.4 1.04,-0.6 1.14,-1.2 1.24,-0.5 1.32,-1.2 1.42,-0.6 1.48,-1.5 1.58,-1.0 1.66,-0.6
1.71,-2.5 1.73,-3.8 1.75,-5.8 1.77,-4.2 1.78,-1.0 1.76,-2.2 1.8,-2.2 1.79,-5.5 1.81,-4.5 1.83,-3.0 1.84,-0.8
1.87,0.6 1.89,1.5 1.91,2.2 1.93,0.5 1.95,3.0 1.97,0.8 1.99,1.5 2.01,2.5 2.03,0.6 2.05,1.0 2.07,-0.8 2.09,0.8 1.9,-1.5 1.94,-2.2 1.97,-3.0 2.0,-1.2 2.03,-3.8 2.04,-4.5 2.07,-2.0 1.86,-0.8
2.13,-0.5 2.16,0.6 2.19,1.2 2.21,2.5 2.23,1.5 2.25,4.5 2.27,3.2 2.29,1.5 2.31,3.5 2.33,2.0 2.35,5.0 2.37,4.5 2.39,2.0 2.41,3.2 2.43,1.0 2.45,4.0 2.47,3.0 2.49,1.8 2.51,3.8 2.53,1.0 2.56,2.5 2.58,1.2 2.6,0.6 2.22,-0.5 2.34,-0.6 2.44,-0.8 2.52,-0.6 2.58,-1.5
2.61,-2.5 2.63,-3.5 2.65,-1.5 2.67,-4.0 2.69,-3.0 2.71,-2.0 2.73,-3.2 2.75,-5.0 2.77,-4.2 2.79,-1.2 2.81,-2.5 2.83,-4.5 2.85,-3.0 2.87,-1.5 2.89,-4.0 2.91,-0.8 2.93,-2.8 2.96,-0.5 2.66,-0.6 2.72,-0.8 2.8,-0.5 2.88,-0.6`;

const f184Points = `0.12,0 0.115,-2.4 0.16,-2.4 0.18,-4.7 0.18,-7.9 0.215,6.2 0.215,6.0 0.155,1.2 0.2,1.0 0.26,0.3 0.31,0.0 0.35,3.7 0.37,-1.5 0.40,12.2 0.43,14.4 0.40,6.9 0.40,5.7 0.42,4.8 0.50,6.9 0.52,12.2 0.52,19.1 0.53,18.5 0.56,13.3 0.53,8.0 0.56,8.0 0.57,5.7 0.5,-0.8 0.55,-0.8 0.6,-0.8 0.62,10.7 0.62,10.3 0.63,-3.5 0.63,-4.0 0.68,17.4 0.69,0.2 0.69,-2.7 0.71,7.4 0.77,18.3 0.79,6.2 0.81,16.8 0.84,14.0 0.86,10.4 0.87,9.5 0.9,16.2 0.92,12.0 0.91,17.8 0.96,17.5 0.98,18.2 0.99,19.6 0.99,15.1 0.98,13.7 1.0,12.9 0.98,8.5 0.97,-2.7 1.04,-4.2 1.14,13.8 1.11,11.8 1.11,12.2 1.11,8.5 1.11,9.9 1.07,6.2 1.15,0.0 1.25,-2.6 1.29,-4.5 1.31,-6.5 1.32,15.1 1.32,14.5 1.36,8.2 1.41,9.2 1.45,9.9 1.48,10.5 1.50,17.4 1.53,13.3 1.51,11.6 1.57,18.0 1.62,16.4 1.65,14.4 1.63,12.5 1.68,12.6 1.65,9.3 1.64,-2.2 1.58,-1.5 1.72,10.1 1.79,11.9 1.81,13.5 1.82,15.2 1.87,14.3 1.85,9.0 1.89,8.7 1.97,9.8 1.99,7.4 2.0,6.7 1.99,6.2 1.94,4.4 2.08,-2.2 2.14,-5.5 2.16,-3.3 2.25,9.4 2.26,7.9 2.25,5.9 2.25,3.9 2.26,2.8 2.3,1.8 2.35,-2.8 2.40,-5.9 2.39,-8.0 2.42,-7.8 2.41,-6.5 2.45,-4.9 2.52,-4.7 2.47,0.8 2.56,-1.2 2.62,4.4 2.62,2.7 2.63,10.0 2.66,10.1 2.68,7.4 2.64,5.3 2.63,3.2 2.85,-2.6 2.87,-5.7 2.88,-6.0 2.97,0
0.3,1.8 0.33,2.5 0.36,1.0 0.38,3.0 0.42,2.0 0.44,0.5 0.46,3.5 0.48,1.5 0.5,4.5 0.52,2.5 0.54,6.0 0.56,3.8 0.58,1.2 0.6,5.0 0.62,2.8 0.64,7.0 0.66,4.5 0.68,1.8 0.7,6.2 0.72,3.2 0.74,5.2 0.76,2.0 0.78,7.5 0.8,4.2 0.82,1.0 0.84,5.8 0.86,3.0 0.88,6.8 0.9,2.2 0.92,4.8 0.94,1.5 0.96,3.5 0.98,5.5 1.0,2.5 1.02,1.2 1.04,3.0 1.06,0.8 1.08,1.8 1.1,-1.0 1.12,0.5 1.15,-1.5 1.18,-2.2 1.2,-1.0 1.22,0.6 1.24,1.5 1.26,-0.5 1.28,2.5 1.3,4.5 1.32,6.5 1.34,3.0 1.36,7.5 1.38,5.0 1.4,2.0 1.42,8.5 1.44,6.0 1.46,3.5 1.48,7.0 1.5,4.5 1.52,2.0 1.54,6.5 1.56,8.0 1.58,3.8 1.6,5.5 1.62,2.5 1.64,7.0 1.66,4.2 1.68,1.5 1.7,6.0 1.72,3.0 1.74,5.0 1.76,2.2 1.78,4.0 1.8,1.2 1.82,3.2 1.84,0.8 1.86,2.5 1.88,-1.0 1.9,1.8 1.92,-0.8 1.95,2.8 1.98,0.5 2.02,1.0 2.05,-1.5 2.08,0.6 2.1,-0.8 2.12,-3.8 2.14,-4.5 2.18,0.8 2.2,-0.6 2.22,1.2 2.28,-0.5 2.32,0.6 2.36,-1.5 2.38,-3.5 2.44,-2.2 2.48,-0.8 2.5,-1.6 2.54,0.4 2.58,0.6 2.6,-0.5 2.7,1.5 2.72,0.6 2.75,-0.6 2.8,0.2 2.82,-1.2 2.9,-0.5 2.94,0.0 0.45,-1.2 0.65,-1.0 0.75,-1.2 0.85,-0.8 0.95,-1.0 1.38,-1.2 1.5,-0.8 1.62,-1.0 1.72,-1.2 1.42,-2.0
0.45,2.5 0.5,1.0 0.55,2.0 0.6,3.5 0.65,2.2 0.7,4.0 0.75,3.5 0.8,6.0 0.85,2.0 0.9,4.0 0.95,2.0 1.0,4.5 0.62,6.5 0.72,5.5 0.82,3.0 0.92,6.5 1.33,4.0 1.38,2.5 1.43,5.0 1.47,1.5 1.52,6.0 1.57,3.0 1.62,4.0 1.67,5.5 1.72,1.5 1.77,3.5 1.82,2.0 1.87,4.5 1.9,3.5 1.45,7.5 1.55,9.0 1.6,7.5`;

const pointSets = [f062Points, f087Points, f106Points, f129Points, f158Points, f184Points];
const zeroSets = [f062ZeroX, f087ZeroX, f106ZeroX, f129ZeroX, f158ZeroX, f184ZeroX];
const meanSets = [f062Means, f087Means, f106Means, f129Means, f158Means, f184Means];

// ---- layout ----
const W = 1642;
const H = 992;
const PW = 438.7;
const PH = 398;
const colLeft = [132.3, 646, 1160];
const rowTop = [42.3, 482.7];
const FONT = "'Liberation Serif', 'DejaVu Serif', serif";

const parsePairs = (s: string): [number, number][] =>
    s.trim().split(/\s+/).map((p) => {
        const [a, b] = p.split(",").map(Number);
        return [a, b] as [number, number];
    });

const x = d3.scaleLinear().domain([-0.023, 3.124]).range([0, PW]);
const y = d3.scaleLinear().domain([-20, 20]).range([PH, 0]);
const meanLine = d3
    .line<[number, number]>()
    .x((d) => x(d[0]))
    .y((d) => y(d[1]));

interface PanelProps {
    idx: number;
}

const Panel: React.FC<PanelProps> = ({ idx }) => {
    const col = idx % 3;
    const row = Math.floor(idx / 3);
    const pts = [
        ...parsePairs(pointSets[idx]),
        ...zeroSets[idx].map((v) => [v, 0] as [number, number]),
    ];
    const means = parsePairs(meanSets[idx]);
    const color = colors[idx];
    const clipId = `clip-${idx}`;
    const legX = PW - 10 - 128;
    const legY = 11;

    return (
        <g transform={`translate(${colLeft[col]},${rowTop[row]})`}>
            <defs>
                <clipPath id={clipId}>
                    <rect x={0} y={0} width={PW} height={PH} />
                </clipPath>
            </defs>
            <g clipPath={`url(#${clipId})`}>
                {pts.map((d, i) => (
                    <circle key={i} cx={x(d[0])} cy={y(d[1])} r={5} fill={color} />
                ))}
                <line
                    x1={0}
                    x2={PW}
                    y1={y(0)}
                    y2={y(0)}
                    stroke="#9a9a9a"
                    strokeWidth={1}
                    strokeDasharray="4,2.5"
                />
                <path
                    d={meanLine(means) ?? ""}
                    fill="none"
                    stroke="#e8302a"
                    strokeWidth={3.3}
                    strokeDasharray="11,4.5"
                />
                {means.map((d, i) => (
                    <circle
                        key={i}
                        cx={x(d[0])}
                        cy={y(d[1])}
                        r={4.2}
                        fill="#ee3322"
                        stroke="#f5a623"
                        strokeWidth={1.5}
                    />
                ))}
            </g>

            {/* spines */}
            <line x1={0} x2={PW} y1={0} y2={0} stroke="#444" strokeWidth={1.2} />
            <line x1={PW} x2={PW} y1={0} y2={PH} stroke="#444" strokeWidth={1.2} />
            <line x1={0} x2={PW} y1={PH} y2={PH} stroke="#444" strokeWidth={1.2} />
            <line x1={0} x2={0} y1={0} y2={PH} stroke="#888" strokeWidth={1.4} />

            {/* y ticks */}
            {yTicks.map((t, i) => (
                <g key={t} transform={`translate(0,${y(t)})`}>
                    <line x1={-10} x2={0} stroke="#111" strokeWidth={1.3} />
                    <text
                        x={-17}
                        dy={12}
                        textAnchor="end"
                        fontFamily={FONT}
                        fontSize={33}
                        fill="#111"
                    >
                        {yTickLabels[i]}
                    </text>
                </g>
            ))}

            {/* x ticks */}
            {xTicks.map((t) => (
                <g key={t} transform={`translate(${x(t)},${PH})`}>
                    <line y1={0} y2={10} stroke="#111" strokeWidth={1.3} />
                    {row === 1 && (
                        <text
                            y={41}
                            textAnchor="middle"
                            fontFamily={FONT}
                            fontSize={33}
                            fill="#111"
                        >
                            {t}
                        </text>
                    )}
                </g>
            ))}

            {/* legend */}
            <rect
                x={legX}
                y={legY}
                width={128}
                height={36.7}
                rx={4}
                fill="white"
                fillOpacity={0.8}
                stroke="#dddddd"
                strokeWidth={1}
            />
            <circle cx={legX + 31} cy={legY + 18.3} r={5} fill={color} />
            <text x={legX + 71.3} y={legY + 25.5} fontFamily={FONT} fontSize={23} fill="#111">
                {filters[idx]}
            </text>
        </g>
    );
};

const App: React.FC = () => {
    return (
        <svg
            width={W}
            height={H}
            style={{ position: "absolute", left: 0, top: 0, background: "white" }}
        >
            <rect width={W} height={H} fill="white" />
            {filters.map((f, i) => (
                <Panel key={f} idx={i} />
            ))}
            <text
                transform="translate(69,497.5) rotate(-90)"
                textAnchor="middle"
                fontFamily={FONT}
                fontSize={30}
                textLength={785}
                lengthAdjust="spacingAndGlyphs"
                fill="#111"
            >
                Magnitude difference (nominal - FPA shifted) [mmag]
            </text>
            <text x={812} y={962} textAnchor="middle" fontFamily={FONT} fontSize={28} fill="#111">
                Redshift
            </text>
        </svg>
    );
};

export default App;
